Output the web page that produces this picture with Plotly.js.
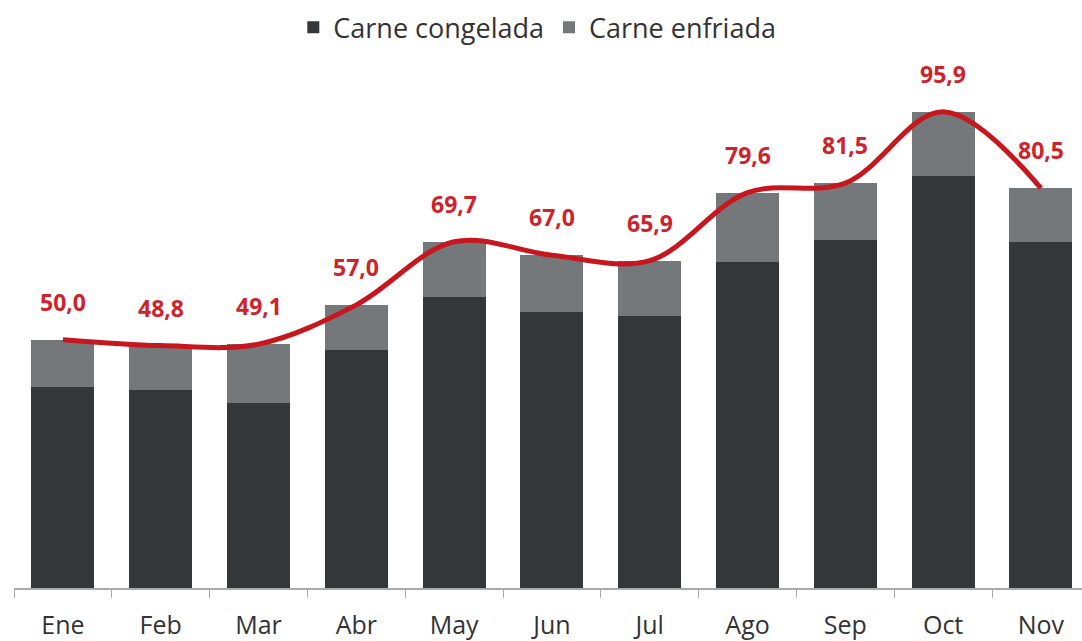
<!DOCTYPE html>
<html>
<head>
<meta charset="utf-8">
<script src="https://cdn.plot.ly/plotly-3.0.1.min.js"></script>
<style>html,body{margin:0;padding:0;background:#fff;}#chart{width:1082px;height:641px;}</style>
</head>
<body>
<div id="chart"></div>
<script>
const months = ["Ene","Feb","Mar","Abr","May","Jun","Jul","Ago","Sep","Oct","Nov"];
const congelada = [40.5, 39.9, 37.3, 47.9, 58.6, 55.6, 54.8, 65.7, 70.1, 82.9, 69.7];
const enfriada  = [9.5, 8.9, 11.8, 9.1, 11.1, 11.4, 11.1, 13.9, 11.4, 13.0, 10.8];
const totals    = [50.0, 48.8, 49.1, 57.0, 69.7, 67.0, 65.9, 79.6, 81.5, 95.9, 80.5];
const totalLabels = ["50,0","48,8","49,1","57,0","69,7","67,0","65,9","79,6","81,5","95,9","80,5"];

const traces = [
  {type:"bar", name:"Carne congelada", x:months, y:congelada, marker:{color:"#343739"}},
  {type:"bar", name:"Carne enfriada", x:months, y:enfriada, marker:{color:"#75787a"}},
  {type:"scatter", mode:"lines", x:months, y:totals, showlegend:false, hoverinfo:"skip",
   line:{color:"#c8161e", width:5, shape:"spline", smoothing:1.0}}
];

const annotations = months.map((m,i)=>({
  x:m, y:totals[i], text:totalLabels[i], showarrow:false, yshift:38,
  font:{family:"Open Sans", size:23, color:"#d0222a", weight:"bold"}
}));

const layout = {
  width:1082, height:641,
  margin:{l:14, r:0, t:60, b:53, autoexpand:false},
  paper_bgcolor:"#fff", plot_bgcolor:"#fff",
  barmode:"stack", bargap:0.355,
  font:{family:"Open Sans", color:"#333"},
  xaxis:{range:[-0.5,10.42], showline:true, linecolor:"#aaa", linewidth:1.5,
         ticks:"outside", ticklen:8, tickcolor:"#aaa", tickson:"boundaries",
         ticklabelstandoff:14,
         tickfont:{size:25, color:"#333"}, showgrid:false, fixedrange:true},
  yaxis:{range:[0,106.3], visible:false, showgrid:false, zeroline:false},
  legend:{orientation:"h", x:0.49, xanchor:"center", y:1.015, yanchor:"bottom",
          font:{size:27, color:"#333"}, traceorder:"normal"},
  annotations:annotations,
  showlegend:true
};
Plotly.newPlot("chart", traces, layout, {displayModeBar:false, staticPlot:true});
</script>
</body>
</html>
